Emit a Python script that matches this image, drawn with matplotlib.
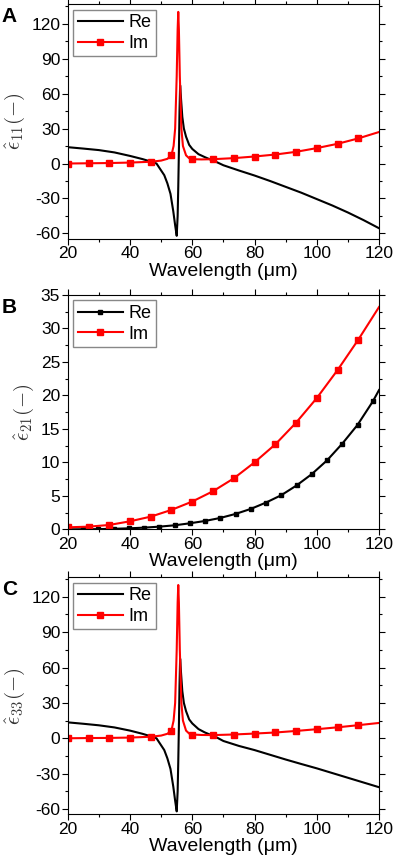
import matplotlib
matplotlib.use("Agg")
import matplotlib.pyplot as plt
from matplotlib.ticker import MultipleLocator

plt.rcParams['font.family'] = ['Liberation Sans', 'DejaVu Sans']
plt.rcParams['mathtext.fontset'] = 'cm'
plt.rcParams['axes.unicode_minus'] = False

# ---- panel A : eps11 ----
a_re_x = [20, 25, 30, 35, 40, 44, 46, 48.5, 50, 51, 52, 53, 53.9, 54.5, 55.0, 55.3, 55.5,
          55.7, 55.9, 56.1, 56.4, 56.8, 57.3, 58, 59, 60, 62, 64, 66, 68, 70, 75, 80, 85,
          90, 95, 100, 105, 110, 115, 120]
a_re_y = [14, 12.8, 11.5, 9.5, 6.5, 3.8, 2.2, 0, -6, -10, -17, -26, -41, -53, -62, -45, -20,
          10, 45, 67, 55, 40, 30, 23, 16, 12.5, 8, 5.5, 3.2, 1, -1.5, -6, -10.3, -15, -20,
          -25, -30.5, -36, -42, -48.5, -55.5]
a_im_x = [20, 26.7, 33.3, 40, 46.7, 50, 52, 53.3, 54, 54.5, 55, 55.3, 55.5, 55.7, 56, 56.5,
          57, 58, 59, 60, 63, 66.7, 73.3, 80, 86.7, 93.3, 100, 106.7, 113.3, 120]
a_im_y = [0, 0.2, 0.4, 0.8, 1.5, 2.5, 4, 7, 15, 30, 75, 115, 130, 115, 75, 30, 15, 7, 4.5,
          3.7, 3.5, 3.7, 4.6, 6, 7.7, 10, 13.2, 16.9, 21.5, 27]
a_im_mx = [20, 26.7, 33.3, 40, 46.7, 53.3, 60, 66.7, 73.3, 80, 86.7, 93.3, 100, 106.7, 113.3]

# ---- panel B : eps21 ----
b_re_x = [20, 24.9, 29.8, 34.7, 39.6, 44.5, 49.4, 54.3, 59.2, 64.1, 69, 73.9, 78.8, 83.7,
          88.6, 93.5, 98.4, 103.3, 108.2, 113.1, 118, 120]
b_re_y = [0, 0.01, 0.03, 0.08, 0.15, 0.25, 0.4, 0.6, 0.9, 1.25, 1.7, 2.3, 3.05, 4.0, 5.1,
          6.55, 8.25, 10.3, 12.8, 15.6, 19.1, 20.8]
b_im_x = [20, 26.7, 33.3, 40, 46.7, 53.3, 60, 66.7, 73.3, 80, 86.7, 93.3, 100, 106.7, 113.3, 120]
b_im_y = [0.3, 0.4, 0.65, 1.2, 1.9, 2.9, 4.15, 5.7, 7.6, 10.0, 12.7, 15.9, 19.6, 23.8, 28.3, 33.2]

# ---- panel C : eps33 ----
c_re_x = [20, 25, 30, 35, 40, 44, 46, 48.5, 50, 51, 52, 53, 53.9, 54.5, 55.0, 55.3, 55.5,
          55.7, 55.9, 56.1, 56.4, 56.8, 57.3, 58, 59, 60, 62, 64, 66, 68, 70, 75, 80, 85,
          90, 95, 100, 105, 110, 115, 120]
c_re_y = [13.5, 12.3, 11, 9.2, 6.5, 3.8, 2.2, 0, -6, -10, -17, -26, -41, -53, -62, -45, -20,
          10, 45, 67.5, 55, 40, 30, 23, 16, 12.6, 7.8, 5, 2.8, 0.5, -2.3, -6.5, -10, -14,
          -18, -21.8, -25.5, -29.5, -33.5, -37.5, -41.5]
c_im_x = [20, 26.7, 33.3, 40, 46.7, 50, 52, 53.3, 54, 54.5, 55, 55.3, 55.5, 55.7, 56, 56.5,
          57, 58, 59, 60, 63, 66.7, 73.3, 80, 86.7, 93.3, 100, 106.7, 113.3, 120]
c_im_y = [0, 0.2, 0.3, 0.6, 1.3, 2.3, 3.8, 6.5, 15, 30, 75, 115, 130, 115, 75, 30, 15, 6.5,
          4, 3.2, 2.8, 2.7, 3.2, 4, 4.9, 6.2, 7.7, 9.3, 11.1, 13]
c_im_mx = a_im_mx

RED = '#ff0000'

fig = plt.figure(figsize=(3.94, 8.6), dpi=100)
axA = fig.add_axes([0.172, 0.7224, 0.790, 0.2726])
axB = fig.add_axes([0.172, 0.3845, 0.790, 0.2725])
axC = fig.add_axes([0.172, 0.0531, 0.790, 0.2756])


def marks(mx, xs, ys):
    return [xs.index(v) for v in mx]


def style(ax, ylab, ymaj, ymin):
    ax.set_xlim(20, 120)
    ax.xaxis.set_major_locator(MultipleLocator(20))
    ax.xaxis.set_minor_locator(MultipleLocator(10))
    ax.yaxis.set_major_locator(MultipleLocator(ymaj))
    ax.yaxis.set_minor_locator(MultipleLocator(ymin))
    ax.tick_params(which='both', direction='out', top=True, right=True,
                   labeltop=False, labelright=False, labelsize=12.5, pad=1.5, width=0.8)
    ax.tick_params(which='major', length=4)
    ax.tick_params(which='minor', length=2.5)
    ax.set_xlabel('Wavelength (μm)', fontsize=14, labelpad=1)
    ax.set_ylabel(ylab, fontsize=15, color='#333333', labelpad=3)
    for s in ax.spines.values():
        s.set_linewidth(0.8)
    ax.legend(loc='upper left', fontsize=13, handlelength=2.5, handletextpad=0.3,
              borderpad=0.25, labelspacing=0.2, borderaxespad=0.3, fancybox=False,
              edgecolor='#888888', framealpha=1)


# A
axA.plot(a_re_x, a_re_y, color='black', lw=1.5, label='Re')
axA.plot(a_im_x, a_im_y, color=RED, lw=1.5, marker='s', ms=4,
         markevery=marks(a_im_mx, a_im_x, a_im_y), label='Im')
axA.set_ylim(-64.5, 136.5)
style(axA, r'$\hat{\epsilon}_{11}(-)$', 30, 15)

# B
axB.plot(b_re_x, b_re_y, color='black', lw=1.5, marker='s', ms=3.5,
         markevery=list(range(1, len(b_re_x) - 1)), label='Re')
axB.plot(b_im_x, b_im_y, color=RED, lw=1.5, marker='s', ms=4,
         markevery=list(range(0, len(b_im_x) - 1)), label='Im')
axB.set_ylim(0, 35)
style(axB, r'$\hat{\epsilon}_{21}(-)$', 5, 2.5)

# C
axC.plot(c_re_x, c_re_y, color='black', lw=1.5, label='Re')
axC.plot(c_im_x, c_im_y, color=RED, lw=1.5, marker='s', ms=4,
         markevery=marks(c_im_mx, c_im_x, c_im_y), label='Im')
axC.set_ylim(-64.5, 136.5)
style(axC, r'$\hat{\epsilon}_{33}(-)$', 30, 15)

for ax, letter in zip([axA, axB, axC], ['A', 'B', 'C']):
    bb = ax.get_position()
    fig.text(0.005, bb.y1 - 0.014, letter, fontsize=15, fontweight='bold', va='center')

fig.savefig('out.png', dpi=100)
